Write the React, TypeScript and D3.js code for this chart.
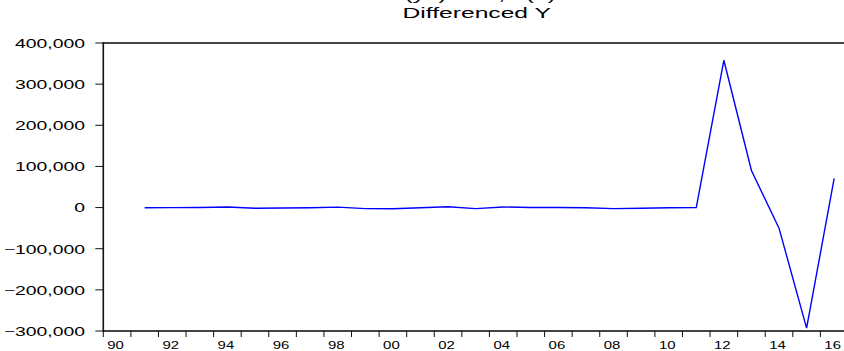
import React, { useRef, useEffect } from 'react';
import * as d3 from 'd3';

// annual observations, first difference of Y (1991-2016)
const years = [
  1991, 1992, 1993, 1994, 1995, 1996, 1997, 1998, 1999, 2000, 2001, 2002, 2003,
  2004, 2005, 2006, 2007, 2008, 2009, 2010, 2011, 2012, 2013, 2014, 2015, 2016,
];
const diffY = [
  -500, -200, 0, 1500, -1500, -1000, -500, 1000, -2500, -3000, -500, 2000, -2500,
  1500, 0, 0, -500, -2500, -1500, -500, 0, 358000, 90000, -50000, -293000, 71000,
];
const yTicks = [400000, 300000, 200000, 100000, 0, -100000, -200000, -300000];
const xTickYears = d3.range(1990, 2017);
const xLabelYears = d3.range(1990, 2017, 2);
const titleTop = 'Series (y2) Test, I (1) Order';
const titleMain = 'Differenced Y';

const App = () => {
  const chartRef = useRef(null);

  useEffect(() => {
    const width = 844;
    const left = 103.3;
    const top = 43;
    const bottom = 331;
    const yearW = 27.58;

    const svg = d3.select(chartRef.current);
    svg.selectAll('*').remove();

    const x = d3.scaleLinear().domain([1990, 2017]).range([left, left + 27 * yearW]);
    const y = d3.scaleLinear().domain([-300000, 400000]).range([bottom, top]);

    const font = '"Liberation Sans", Arial, sans-serif';

    // titles (stretched horizontally like the source image); first line runs off the top
    svg.append('g')
      .attr('transform', 'translate(476.7,0) scale(1.6,1)')
      .append('text')
      .attr('text-anchor', 'middle')
      .attr('font-family', font)
      .attr('font-size', 15.4)
      .text(titleTop);
    svg.append('g')
      .attr('transform', 'translate(476.7,18.3) scale(1.6,1)')
      .append('text')
      .attr('text-anchor', 'middle')
      .attr('font-family', font)
      .attr('font-size', 15.4)
      .text(titleMain);

    // frame
    svg.append('line')
      .attr('x1', left).attr('x2', width + 5)
      .attr('y1', top).attr('y2', top)
      .attr('stroke', '#444').attr('stroke-width', 2);
    svg.append('line')
      .attr('x1', left).attr('x2', width + 5)
      .attr('y1', bottom).attr('y2', bottom)
      .attr('stroke', '#444').attr('stroke-width', 2);
    svg.append('line')
      .attr('x1', left).attr('x2', left)
      .attr('y1', top - 1).attr('y2', bottom + 1)
      .attr('stroke', '#111').attr('stroke-width', 1.6);

    // y axis ticks + labels
    const fmt = d3.format(',');
    const yg = svg.append('g');
    yTicks.forEach(v => {
      yg.append('line')
        .attr('x1', left - 8).attr('x2', left)
        .attr('y1', y(v)).attr('y2', y(v))
        .attr('stroke', '#111').attr('stroke-width', 1);
      yg.append('g')
        .attr('transform', `translate(85,${y(v) + 4.8}) scale(1.55,1)`)
        .append('text')
        .attr('text-anchor', 'end')
        .attr('font-family', font)
        .attr('font-size', 12.5)
        .text(fmt(v));
    });

    // x axis ticks + labels
    const xg = svg.append('g');
    xTickYears.forEach(yr => {
      xg.append('line')
        .attr('x1', x(yr)).attr('x2', x(yr))
        .attr('y1', bottom).attr('y2', bottom + 6)
        .attr('stroke', '#111').attr('stroke-width', 1);
    });
    xLabelYears.forEach(yr => {
      xg.append('g')
        .attr('transform', `translate(${x(yr + 0.5) - 1.5},348.7) scale(1.3,1)`)
        .append('text')
        .attr('text-anchor', 'middle')
        .attr('font-family', font)
        .attr('font-size', 11.5)
        .text(String(yr % 100).padStart(2, '0'));
    });

    // series line
    const data = years.map((yr, i) => ({ yr, v: diffY[i] }));
    const line = d3.line<{ yr: number; v: number }>()
      .x(d => x(d.yr + 0.5))
      .y(d => y(d.v));
    svg.append('path')
      .datum(data)
      .attr('fill', 'none')
      .attr('stroke', '#0000ff')
      .attr('stroke-width', 1.4)
      .attr('d', line);
  }, []);

  return (
    <svg
      ref={chartRef}
      width={844}
      height={351}
      style={{ position: 'absolute', left: 0, top: 0, background: '#fff' }}
    ></svg>
  );
};

export default App;
